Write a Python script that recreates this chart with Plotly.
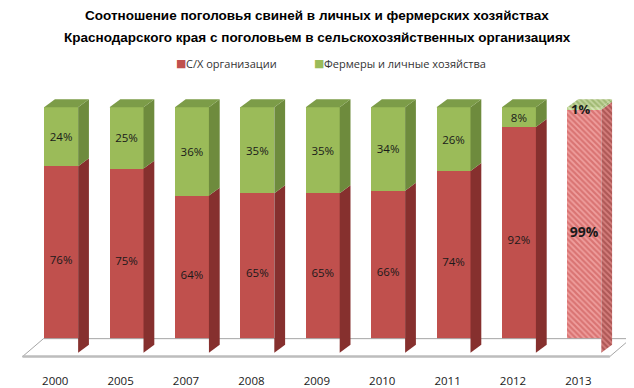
import plotly.graph_objects as go

years = ["2000", "2005", "2007", "2008", "2009", "2010", "2011", "2012", "2013"]
org_share = [76, 75, 64, 65, 65, 66, 74, 92, 99]
farm_share = [24, 25, 36, 35, 35, 34, 26, 8, 1]
series_names = ["С/Х организации", "Фермеры и личные хозяйства"]
title_lines = ["Соотношение поголовья свиней в личных и фермерских хозяйствах",
               "Краснодарского края с поголовьем в сельскохозяйственных организациях"]

# styling
RED, RED_SIDE = "#C0504D", "#86302E"
GREEN, GREEN_SIDE, GREEN_TOP = "#9BBB59", "#6E8B3D", "#7C9C48"
HATCH_BG = "#EF9F9E"
BAR_OFFSET, BAR_WIDTH = -0.17, 0.52
DX, DY = 0.165, 3.25           # bar depth in data units
FLOOR_DX, FLOOR_DY, FLOOR_Y = 0.32, 7.3, -1.6
FONT = "Open Sans"
PAGE_PAD = 8                   # default body margin of the html page
W, H = 634 - PAGE_PAD, 388 - PAGE_PAD
ML, MR, MT, MB = 8, 0, 87, 28

n = len(years)
xs = list(range(n))
forecast = [i == n - 1 for i in xs]

fig = go.Figure()

# floor
fl, fr = -0.5, n - 0.52
fig.add_trace(go.Scatter(
    x=[fl, fl + FLOOR_DX, fr + FLOOR_DX, fr, fl],
    y=[FLOOR_Y, FLOOR_Y + FLOOR_DY, FLOOR_Y + FLOOR_DY, FLOOR_Y, FLOOR_Y],
    mode="lines", fill="toself", fillcolor="#FFFFFF",
    line=dict(color="#A6A6A6", width=1), hoverinfo="skip", showlegend=False))
fig.add_trace(go.Scatter(
    x=[fl, fr], y=[FLOOR_Y, FLOOR_Y], mode="lines",
    line=dict(color="#BDBDBD", width=2.5), hoverinfo="skip", showlegend=False))


def poly(px, py, color, hatch=False, fg=None, bg=HATCH_BG):
    kw = {}
    if hatch:
        kw["fillpattern"] = dict(shape="\\", fgcolor=fg, bgcolor=bg,
                                 size=4, solidity=0.55)
    fig.add_trace(go.Scatter(
        x=px + [px[0]], y=py + [py[0]], mode="lines", fill="toself",
        fillcolor=color, line=dict(width=0, color=color),
        hoverinfo="skip", showlegend=False, **kw))


for i in xs:
    xl = i + BAR_OFFSET
    xr = xl + BAR_WIDTH
    r = org_share[i]
    t = org_share[i] + farm_share[i]
    h = forecast[i]
    poly([xr, xr + DX, xr + DX, xr], [0, DY, r + DY, r], RED_SIDE, h, RED_SIDE, "#D6807E")
    poly([xr, xr + DX, xr + DX, xr], [r, r + DY, t + DY, t], GREEN_SIDE, h, GREEN_SIDE, "#C5D6A0")
    poly([xl, xl + DX, xr + DX, xr], [t, t + DY, t + DY, t], GREEN_TOP, h, GREEN_TOP, "#C5D6A0")

pat_shape = ["\\" if f else "" for f in forecast]
red_text = [f"<b>{v}%</b>" if f else f"{v}%" for v, f in zip(org_share, forecast)]
green_text = ["" if f else f"{v}%" for v, f in zip(farm_share, forecast)]
txt_size = [14 if f else 11.5 for f in forecast]

fig.add_trace(go.Bar(
    x=xs, y=org_share, name=series_names[0], offset=BAR_OFFSET, width=BAR_WIDTH,
    marker=dict(color=RED, line=dict(width=0),
                pattern=dict(shape=pat_shape, fgcolor="#C44A48", bgcolor=HATCH_BG,
                             size=4, solidity=0.55)),
    text=red_text, textposition="inside", insidetextanchor="middle",
    textangle=0, constraintext="none",
    textfont=dict(family=FONT, size=txt_size, color="#1A1A1A"),
    hoverinfo="skip", showlegend=False))
fig.add_trace(go.Bar(
    x=xs, y=farm_share, name=series_names[1], offset=BAR_OFFSET, width=BAR_WIDTH,
    marker=dict(color=GREEN, line=dict(width=0),
                pattern=dict(shape=pat_shape, fgcolor=GREEN, bgcolor="#D9E6BD",
                             size=4, solidity=0.55)),
    text=green_text, textposition="inside", insidetextanchor="middle",
    textangle=0, constraintext="none",
    textfont=dict(family=FONT, size=txt_size, color="#1A1A1A"),
    hoverinfo="skip", showlegend=False))

pw = W - ML - MR
ph = H - MT - MB


def px_paper(pix):
    return (pix - PAGE_PAD - ML) / pw


def py_paper(pix):
    return (H - MB - (pix - PAGE_PAD)) / ph


annotations = []
for k, line in enumerate(title_lines):
    annotations.append(dict(
        text=f"<b>{line}</b>", xref="paper", yref="paper", x=px_paper(317),
        y=py_paper(15 + 22 * k), xanchor="center", yanchor="middle", showarrow=False,
        font=dict(family="Liberation Sans", size=13.5, color="#000000")))

# label of the tiny forecast segment (too thin to hold its text inside)
for i in xs:
    if forecast[i]:
        annotations.append(dict(
            text=f"<b>{farm_share[i]}%</b>", x=i + BAR_OFFSET + BAR_WIDTH * 0.4,
            y=org_share[i] + farm_share[i] / 2, xref="x", yref="y",
            xanchor="center", yanchor="middle", showarrow=False,
            font=dict(family=FONT, size=13, color="#1A1A1A")))

# legend
legend_pos = [175, 313]
for name, col, lx in zip(series_names, [RED, GREEN], legend_pos):
    annotations.append(dict(
        text="■", xref="paper", yref="paper", x=px_paper(lx - 1), y=py_paper(63),
        xanchor="left", yanchor="middle", showarrow=False,
        font=dict(family="DejaVu Sans", size=11, color=col)))
    annotations.append(dict(
        text=name, xref="paper", yref="paper", x=px_paper(lx + 9), y=py_paper(63),
        xanchor="left", yanchor="middle", showarrow=False,
        font=dict(family=FONT, size=11, color="#333333")))

fig.update_layout(
    width=W, height=H,
    margin=dict(l=ML, r=MR, t=MT, b=MB, autoexpand=False),
    barmode="stack",
    paper_bgcolor="white", plot_bgcolor="white",
    font=dict(family=FONT, color="#262626"),
    annotations=annotations,
    showlegend=False,
    xaxis=dict(range=[-0.6, n - 1 + 0.85], tickvals=xs, ticktext=years,
               showgrid=False, zeroline=False, showline=False, ticks="",
               automargin=False, ticklabelstandoff=12,
               tickfont=dict(family=FONT, size=11.5, color="#1A1A1A")),
    yaxis=dict(range=[-3, 105], visible=False, automargin=False),
)

fig.write_html("out.html")
